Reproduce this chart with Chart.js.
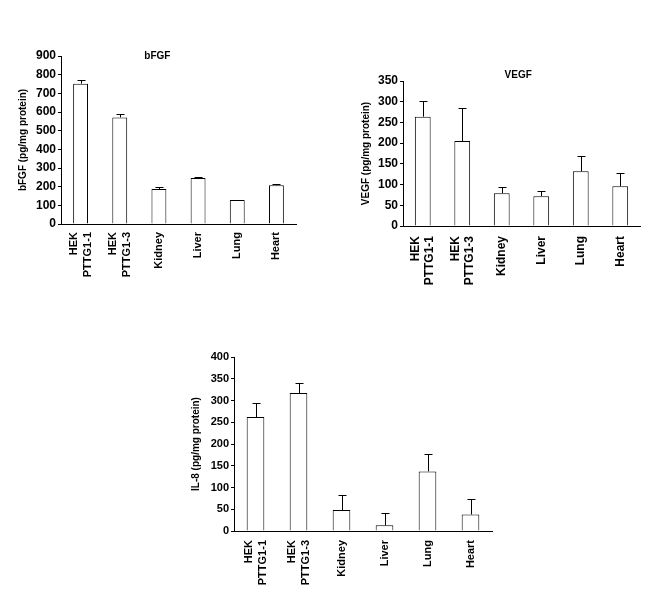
<!DOCTYPE html>
<html>
<head>
<meta charset="utf-8">
<script src="https://cdn.jsdelivr.net/npm/chart.js@4.4.0/dist/chart.umd.min.js"></script>
<style>
  body { margin: 0; background: #fff; }
  canvas { position: absolute; }
</style>
</head>
<body>
<canvas id="bfgfChart" width="310" height="290" style="left:0px;top:40px"></canvas>
<canvas id="vegfChart" width="325" height="290" style="left:330px;top:60px"></canvas>
<canvas id="il8Chart" width="330" height="259" style="left:180px;top:340px"></canvas>
<script>
var tissues = [['HEK', 'PTTG1-1'], ['HEK', 'PTTG1-3'], ['Kidney'], ['Liver'], ['Lung'], ['Heart']];

var bfgfValues = [752, 571, 187, 246, 128, 208];
var bfgfErrors = [22, 16, 12, 6, 0, 6];

var vegfValues = [264, 205, 79, 72, 132, 96];
var vegfErrors = [38, 79, 14, 12, 36, 33];

var il8Values = [262, 317, 48, 13, 137, 38];
var il8Errors = [32, 23, 34, 28, 41, 36];

var fontFamily = '"Liberation Sans", Arial, sans-serif';

// error bars (upper only) + rotated category labels + inner title
var extrasPlugin = {
  id: 'extras',
  afterDatasetsDraw: function(chart, args, opts) {
    var ctx = chart.ctx;
    var meta = chart.getDatasetMeta(0);
    var yScale = chart.scales.y;
    var xScale = chart.scales.x;
    var values = chart.data.datasets[0].data;
    ctx.save();
    ctx.strokeStyle = '#000';
    ctx.lineWidth = 1;
    opts.errors.forEach(function(err, i) {
      if (!err) return;
      var x = Math.round(meta.data[i].x) + 0.5;
      var yTop = Math.round(yScale.getPixelForValue(values[i] + err)) + 0.5;
      var yBar = yScale.getPixelForValue(values[i]);
      ctx.beginPath();
      ctx.moveTo(x, yBar);
      ctx.lineTo(x, yTop);
      ctx.moveTo(x - 4, yTop);
      ctx.lineTo(x + 4, yTop);
      ctx.stroke();
    });

    // category labels, rotated, end of text near the axis
    ctx.fillStyle = '#000';
    ctx.font = 'bold ' + opts.labelSize + 'px ' + fontFamily;
    ctx.textAlign = 'right';
    ctx.textBaseline = 'middle';
    chart.data.labels.forEach(function(lines, i) {
      var cx = xScale.getPixelForValue(i);
      var y0 = xScale.top + opts.labelGap;
      lines.forEach(function(line, j) {
        var off = (j - (lines.length - 1) / 2) * 14;
        ctx.save();
        ctx.translate(cx + off, y0);
        ctx.rotate(-Math.PI / 2);
        ctx.fillText(line, 0, 0);
        ctx.restore();
      });
    });

    if (opts.title) {
      var area = chart.chartArea;
      ctx.font = 'bold 10px ' + fontFamily;
      ctx.textAlign = 'center';
      ctx.fillText(opts.title, area.left + (area.right - area.left) * opts.titleX, area.top + opts.titleDy);
    }
    ctx.restore();
  }
};

function makeChart(id, values, errors, o) {
  return new Chart(document.getElementById(id), {
    type: 'bar',
    data: {
      labels: tissues,
      datasets: [{
        data: values,
        backgroundColor: '#fff',
        borderColor: '#000',
        borderWidth: 1,
        barPercentage: o.barPct,
        categoryPercentage: 1
      }]
    },
    options: {
      responsive: false,
      animation: false,
      layout: { padding: { top: o.padTop, right: o.padRight, left: 0, bottom: 0 } },
      plugins: {
        legend: { display: false },
        tooltip: { enabled: false },
        extras: { errors: errors, title: o.title, titleX: o.titleX, titleDy: o.titleDy, labelSize: o.labelSize, labelGap: o.labelGap }
      },
      scales: {
        x: {
          grid: { display: false },
          border: { display: true, color: '#000', width: 1 },
          ticks: { display: false },
          afterFit: function(scale) { scale.height = o.xHeight; }
        },
        y: {
          min: 0,
          max: o.yMax,
          ticks: {
            stepSize: o.step,
            color: '#000',
            padding: 2,
            font: { family: fontFamily, size: o.tickSize, weight: 'bold' }
          },
          grid: { drawOnChartArea: false, drawTicks: true, tickLength: 3, color: '#000' },
          border: { display: true, color: '#000', width: 1 },
          title: {
            display: true,
            text: o.yTitle,
            color: '#000',
            padding: { top: o.titlePad, bottom: 0 },
            font: { family: fontFamily, size: 10, weight: 'bold' }
          },
          afterFit: function(scale) { scale.width = o.yWidth; }
        }
      }
    },
    plugins: [extrasPlugin]
  });
}

window.onload = function() {
  makeChart('bfgfChart', bfgfValues, bfgfErrors, {
    yMax: 900, step: 100, yTitle: 'bFGF (pg/mg protein)', title: 'bFGF', titleX: 0.41, titleDy: 0,
    padTop: 16, padRight: 14, yWidth: 61, titlePad: 17, xHeight: 106, barPct: 0.38, labelSize: 11, labelGap: 8, tickSize: 12
  });
  makeChart('vegfChart', vegfValues, vegfErrors, {
    yMax: 350, step: 50, yTitle: 'VEGF (pg/mg protein)', title: 'VEGF', titleX: 0.486, titleDy: -6,
    padTop: 21, padRight: 15, yWidth: 73, titlePad: 30, xHeight: 124, barPct: 0.4, labelSize: 12, labelGap: 10, tickSize: 12
  });
  makeChart('il8Chart', il8Values, il8Errors, {
    yMax: 400, step: 50, yTitle: 'IL-8 (pg/mg protein)', title: '', titleX: 0, titleDy: 0,
    padTop: 17, padRight: 18, yWidth: 54, titlePad: 10, xHeight: 68, barPct: 0.41, labelSize: 11, labelGap: 9, tickSize: 11
  });
};
</script>
</body>
</html>
